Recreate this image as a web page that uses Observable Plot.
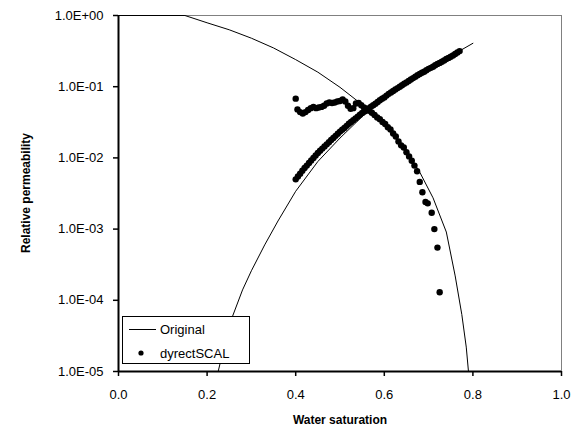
<!DOCTYPE html>
<html>
<head>
<meta charset="utf-8">
<script src="https://cdn.jsdelivr.net/npm/d3@7"></script>
<script src="https://cdn.jsdelivr.net/npm/@observablehq/plot@0.6"></script>
<style>
  html, body { margin: 0; padding: 0; background: white; }
  #chart { width: 581px; height: 433px; }
</style>
</head>
<body>
<div id="chart"></div>
<script>
// ---- Data ----
// Original water relative permeability curve
const origSwW = [0.225, 0.25, 0.28, 0.30, 0.33, 0.36, 0.40, 0.45, 0.50, 0.55, 0.60, 0.65, 0.70, 0.75, 0.80];
const origKrw = [1e-5, 4.5e-5, 1.4e-4, 2.6e-4, 6.0e-4, 1.3e-3, 3.4e-3, 8.9e-3, 0.019, 0.038, 0.068, 0.11, 0.174, 0.27, 0.407];
// Original oil relative permeability curve
const origSwO = [0.00, 0.15, 0.20, 0.25, 0.30, 0.35, 0.40, 0.45, 0.50, 0.55, 0.60, 0.65, 0.68, 0.71, 0.74, 0.76, 0.775, 0.785, 0.79];
const origKro = [1, 1, 0.79, 0.63, 0.48, 0.35, 0.24, 0.16, 0.098, 0.056, 0.032, 0.0126, 0.0063, 0.00275, 0.00091, 2.2e-4, 6.3e-5, 2.2e-5, 1e-5];
// dyrectSCAL water points
const scalSwW = [0.400, 0.405, 0.410, 0.415, 0.420, 0.425, 0.430, 0.435, 0.440, 0.445, 0.450, 0.455, 0.460, 0.465, 0.470, 0.475, 0.480, 0.485, 0.490, 0.495,
  0.500, 0.505, 0.510, 0.515, 0.520, 0.525, 0.530, 0.535, 0.540, 0.545, 0.550, 0.555, 0.560, 0.565, 0.570, 0.575, 0.580, 0.585, 0.590, 0.595,
  0.600, 0.605, 0.610, 0.615, 0.620, 0.625, 0.630, 0.635, 0.640, 0.645, 0.650, 0.655, 0.660, 0.665, 0.670, 0.675, 0.680, 0.685, 0.690, 0.695,
  0.700, 0.705, 0.710, 0.715, 0.720, 0.725, 0.730, 0.735, 0.740, 0.745, 0.750, 0.755, 0.760, 0.765, 0.770];
const scalKrw = [0.0050, 0.0055, 0.0060, 0.0066, 0.0072, 0.0078, 0.0085, 0.0092, 0.0100, 0.0108, 0.0117, 0.0126, 0.0135, 0.0145, 0.0155, 0.0166, 0.0178, 0.0190, 0.0204, 0.0219,
  0.0234, 0.0248, 0.0263, 0.0282, 0.0302, 0.0320, 0.0339, 0.0359, 0.0380, 0.0403, 0.0427, 0.0447, 0.0468, 0.0496, 0.0525, 0.0550, 0.0575, 0.0610, 0.0646, 0.0676,
  0.0708, 0.0750, 0.0794, 0.0832, 0.0871, 0.0912, 0.0955, 0.100, 0.105, 0.110, 0.115, 0.120, 0.126, 0.132, 0.138, 0.145, 0.151, 0.157, 0.162, 0.170,
  0.178, 0.184, 0.191, 0.200, 0.209, 0.216, 0.224, 0.234, 0.245, 0.254, 0.263, 0.275, 0.288, 0.302, 0.316];
// dyrectSCAL oil points
const scalSwO = [0.400, 0.404, 0.410, 0.416, 0.422, 0.428, 0.434, 0.440, 0.446, 0.452, 0.458, 0.464, 0.470, 0.476, 0.482, 0.488, 0.494, 0.500, 0.506, 0.512,
  0.518, 0.524, 0.530, 0.536, 0.542, 0.548, 0.554, 0.560, 0.566, 0.572, 0.578, 0.584, 0.590, 0.596, 0.602, 0.608, 0.614, 0.620, 0.626, 0.632,
  0.638, 0.644, 0.650, 0.656, 0.662, 0.668, 0.674, 0.680, 0.686, 0.693, 0.698, 0.707, 0.713, 0.720, 0.725];
const scalKro = [0.068, 0.048, 0.044, 0.042, 0.044, 0.047, 0.050, 0.052, 0.050, 0.051, 0.052, 0.054, 0.058, 0.060, 0.059, 0.060, 0.062, 0.063, 0.066, 0.062,
  0.054, 0.049, 0.050, 0.058, 0.059, 0.055, 0.051, 0.049, 0.046, 0.043, 0.040, 0.037, 0.035, 0.032, 0.030, 0.027, 0.025, 0.022, 0.020, 0.017,
  0.015, 0.014, 0.012, 0.0105, 0.0091, 0.0078, 0.0065, 0.0046, 0.0033, 0.0024, 0.0023, 0.0017, 0.0010, 0.00055, 0.00013];
// Axis ticks
const xTicks = [0, 0.2, 0.4, 0.6, 0.8, 1.0];
const yTicks = [1, 1e-1, 1e-2, 1e-3, 1e-4, 1e-5];
const xTitle = "Water saturation";
const yTitle = "Relative permeability";
const seriesNames = ["Original", "dyrectSCAL"];

// ---- Build tables ----
const origW = origSwW.map((s, i) => ({sw: s, k: origKrw[i]}));
const origO = origSwO.map((s, i) => ({sw: s, k: origKro[i]}));
const scal = scalSwW.map((s, i) => ({sw: s, k: scalKrw[i]}))
  .concat(scalSwO.map((s, i) => ({sw: s, k: scalKro[i]})));

const fmtE = d => {
  const e = Math.round(Math.log10(d));
  return "1.0E" + (e >= 0 ? "+" : "-") + String(Math.abs(e)).padStart(2, "0");
};

const chart = Plot.plot({
  width: 581,
  height: 433,
  marginLeft: 118,
  marginRight: 20,
  marginTop: 15,
  marginBottom: 62,
  x: {domain: [0, 1]},
  y: {type: "log", domain: [1e-5, 1]},
  style: {fontFamily: "Arial, 'Liberation Sans', sans-serif", fontSize: "13px", color: "black", background: "white"},
  marks: [
    Plot.frame({stroke: "#808080", strokeWidth: 1}),
    Plot.line(origW, {x: "sw", y: "k", stroke: "black", strokeWidth: 1, clip: true}),
    Plot.line(origO, {x: "sw", y: "k", stroke: "black", strokeWidth: 1, clip: true}),
    Plot.dot(scal, {x: "sw", y: "k", r: 3.2, fill: "black", stroke: "none"}),
    Plot.ruleX([0], {stroke: "black", strokeWidth: 2}),
    Plot.ruleY([1e-5], {stroke: "black", strokeWidth: 2}),
    Plot.axisX({ticks: xTicks, tickFormat: d3.format(".1f"), tickSize: 5, tickPadding: 13, label: null, strokeWidth: 1.5}),
    Plot.axisY({ticks: yTicks, tickFormat: fmtE, tickSize: 5, tickPadding: 10, label: null, strokeWidth: 1.5})
  ]
});

const svg = d3.select(chart);
const font = "Arial, 'Liberation Sans', sans-serif";
// Axis titles
svg.append("text")
  .attr("x", 340).attr("y", 424)
  .attr("text-anchor", "middle")
  .attr("font-family", font).attr("font-size", 12).attr("font-weight", "bold")
  .attr("fill", "black")
  .text(xTitle);
svg.append("text")
  .attr("transform", "translate(30,193) rotate(-90)")
  .attr("text-anchor", "middle")
  .attr("font-family", font).attr("font-size", 12).attr("font-weight", "bold")
  .attr("fill", "black")
  .text(yTitle);

// Legend
const lg = svg.append("g").attr("font-family", font).attr("font-size", 13).attr("text-anchor", "start");
lg.append("rect").attr("x", 122.5).attr("y", 316.5).attr("width", 127).attr("height", 47)
  .attr("fill", "white").attr("stroke", "black").attr("stroke-width", 1);
lg.append("line").attr("x1", 129).attr("x2", 156).attr("y1", 329.5).attr("y2", 329.5)
  .attr("stroke", "black").attr("stroke-width", 1);
lg.append("text").attr("x", 160).attr("y", 329.5).attr("dy", "0.35em").attr("text-anchor", "start").attr("fill", "black").text(seriesNames[0]);
lg.append("circle").attr("cx", 141).attr("cy", 353).attr("r", 2.6).attr("fill", "black");
lg.append("text").attr("x", 160).attr("y", 353).attr("dy", "0.35em").attr("text-anchor", "start").attr("fill", "black").text(seriesNames[1]);

document.getElementById("chart").appendChild(chart);
</script>
</body>
</html>
